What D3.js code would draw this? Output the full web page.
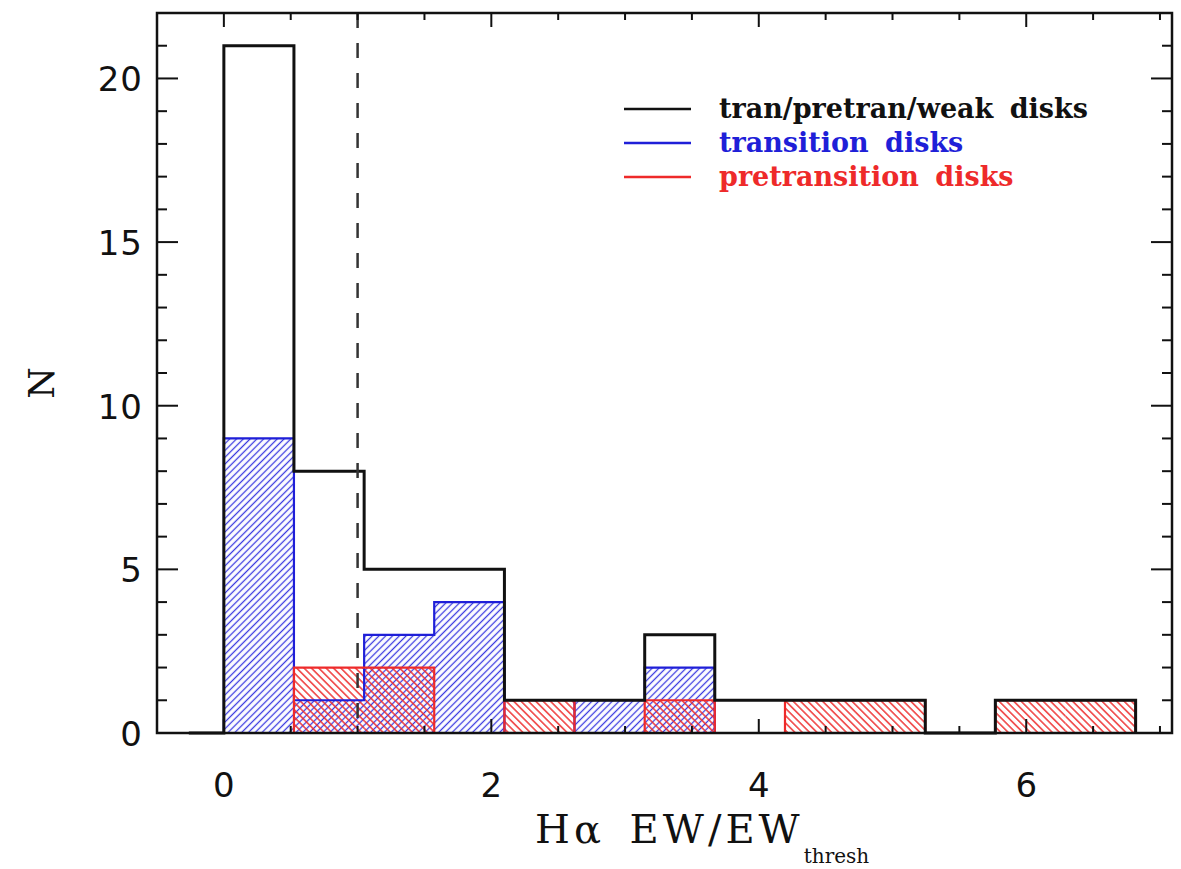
<!DOCTYPE html>
<html>
<head>
<meta charset="utf-8">
<script src="https://cdn.jsdelivr.net/npm/d3@7"></script>
<style>
  body { margin: 0; background: #fff; }
  svg { display: block; }
</style>
</head>
<body>
<div id="chart"></div>
<script>
// histogram bins (left edges) and the right edge of the last bin
var binStart = [0, 0.524, 1.049, 1.573, 2.098, 2.622, 3.147, 3.671, 4.196, 4.720, 5.245, 5.769, 6.294];
var binEndLast = 6.818;

// counts per bin
var allCounts = [21, 8, 5, 5, 1, 1, 3, 1, 1, 1, 0, 1, 1];
var tranCounts = [9, 1, 3, 4, 0, 1, 2, 0, 0, 0, 0, 0, 0];
var pretranCounts = [0, 2, 2, 0, 1, 0, 1, 0, 1, 1, 0, 1, 1];

var legendNames = ["tran/pretran/weak disks", "transition disks", "pretransition disks"];
var xMajor = [0, 2, 4, 6];
var yMajor = [0, 5, 10, 15, 20];
var threshold = 1;

function drawChart() {
  var W = 1181, H = 869;
  var m = {left: 157, right: 1172, top: 13, bottom: 733};

  var svg = d3.select("#chart").append("svg")
      .attr("width", W)
      .attr("height", H);

  var x = d3.scaleLinear().domain([-0.5, 7.09]).range([m.left, m.right]);
  var y = d3.scaleLinear().domain([0, 22]).range([m.bottom, m.top]);

  var blue = "#1f1fd8", red = "#ee2a2a";

  // hatch patterns
  var defs = svg.append("defs");
  function hatch(id, color, angle, gap, w) {
    var p = defs.append("pattern")
        .attr("id", id)
        .attr("patternUnits", "userSpaceOnUse")
        .attr("width", gap).attr("height", gap)
        .attr("patternTransform", "rotate(" + angle + ")");
    p.append("line")
        .attr("x1", gap / 2).attr("y1", 0)
        .attr("x2", gap / 2).attr("y2", gap)
        .attr("stroke", color)
        .attr("stroke-width", w);
  }
  hatch("hatchBlue", "#3a3ae0", 45, 4.8, 1.3);
  hatch("hatchRed", red, -45, 5.2, 1.4);

  function binRight(i) {
    return i + 1 < binStart.length ? binStart[i + 1] : binEndLast;
  }

  // hatched fills
  function fills(counts, pat) {
    svg.append("g").selectAll("rect")
      .data(counts.map(function (c, i) { return {i: i, c: c}; }).filter(function (d) { return d.c > 0; }))
      .enter().append("rect")
        .attr("x", function (d) { return x(binStart[d.i]); })
        .attr("y", function (d) { return y(d.c); })
        .attr("width", function (d) { return x(binRight(d.i)) - x(binStart[d.i]); })
        .attr("height", function (d) { return y(0) - y(d.c); })
        .attr("fill", "url(#" + pat + ")");
  }
  fills(tranCounts, "hatchBlue");
  fills(pretranCounts, "hatchRed");

  // step outlines
  var step = d3.line()
      .x(function (d) { return x(d[0]); })
      .y(function (d) { return y(d[1]); })
      .curve(d3.curveStepAfter);

  function outline(counts, lead) {
    var pts = [];
    if (lead) pts.push([-(binStart[1] - binStart[0]) / 2, 0]);
    else pts.push([binStart[0], 0]);
    counts.forEach(function (c, i) { pts.push([binStart[i], c]); });
    pts.push([binEndLast, 0]);
    return pts;
  }

  svg.append("path")
      .attr("d", step(outline(tranCounts, false)))
      .attr("fill", "none").attr("stroke", blue).attr("stroke-width", 2.2);
  svg.append("path")
      .attr("d", step(outline(pretranCounts, false)))
      .attr("fill", "none").attr("stroke", red).attr("stroke-width", 2.2);
  svg.append("path")
      .attr("d", step(outline(allCounts, true)))
      .attr("fill", "none").attr("stroke", "#111").attr("stroke-width", 3);

  // threshold line
  svg.append("line")
      .attr("x1", x(threshold)).attr("x2", x(threshold))
      .attr("y1", y(22)).attr("y2", y(0))
      .attr("stroke", "#333").attr("stroke-width", 2.5)
      .attr("stroke-dasharray", "15,15");

  // frame and ticks
  svg.append("rect")
      .attr("x", m.left).attr("y", m.top)
      .attr("width", m.right - m.left).attr("height", m.bottom - m.top)
      .attr("fill", "none").attr("stroke", "#111").attr("stroke-width", 2.5);

  var xTickVals = d3.range(0, 7.01, 0.5);
  var yTickVals = d3.range(0, 22.01, 1);

  var axisX = svg.append("g").attr("stroke", "#111").attr("stroke-width", 2);
  xTickVals.forEach(function (v) {
    var len = xMajor.indexOf(v) >= 0 ? 14 : 7;
    axisX.append("line").attr("x1", x(v)).attr("x2", x(v)).attr("y1", m.bottom).attr("y2", m.bottom - len);
    axisX.append("line").attr("x1", x(v)).attr("x2", x(v)).attr("y1", m.top).attr("y2", m.top + len);
  });
  var axisY = svg.append("g").attr("stroke", "#111").attr("stroke-width", 2);
  yTickVals.forEach(function (v) {
    var len = yMajor.indexOf(v) >= 0 ? 21 : 10;
    axisY.append("line").attr("x1", m.left).attr("x2", m.left + len).attr("y1", y(v)).attr("y2", y(v));
    axisY.append("line").attr("x1", m.right).attr("x2", m.right - len).attr("y1", y(v)).attr("y2", y(v));
  });

  // tick labels
  svg.append("g").selectAll("text")
    .data(xMajor).enter().append("text")
      .attr("x", function (d) { return x(d); })
      .attr("y", 797)
      .attr("text-anchor", "middle")
      .style("font", "34px 'DejaVu Sans'")
      .attr("fill", "#111")
      .text(function (d) { return d; });

  svg.append("g").selectAll("text")
    .data(yMajor).enter().append("text")
      .attr("x", 143)
      .attr("y", function (d) { return y(d) + 13; })
      .attr("text-anchor", "end")
      .style("font", "34px 'DejaVu Sans'")
      .style("letter-spacing", "1px")
      .attr("fill", "#111")
      .text(function (d) { return d; });

  // axis titles
  var xt = svg.append("text")
      .attr("x", 535).attr("y", 843)
      .style("font", "40px 'DejaVu Serif'")
      .style("letter-spacing", "4px")
      .style("word-spacing", "8px")
      .attr("fill", "#111");
  xt.append("tspan").text("H\u03b1 EW/EW");
  xt.append("tspan").attr("dy", 20).style("font-size", "20px").style("letter-spacing", "0px").text("thresh");

  svg.append("text")
      .attr("transform", "translate(54,383) rotate(-90)")
      .attr("text-anchor", "middle")
      .style("font", "36px 'DejaVu Serif'")
      .attr("fill", "#111")
      .text("N");

  // legend
  var legendColors = ["#111", blue, red];
  var lg = svg.append("g");
  legendNames.forEach(function (name, i) {
    var ly = 109 + i * 34;
    lg.append("line")
        .attr("x1", 624).attr("x2", 691)
        .attr("y1", ly).attr("y2", ly)
        .attr("stroke", legendColors[i]).attr("stroke-width", 2.5);
    lg.append("text")
        .attr("x", 719).attr("y", ly + 9)
        .style("font", "bold 27px 'DejaVu Serif'")
        .style("word-spacing", "7px")
        .attr("fill", legendColors[i])
        .text(name);
  });
}

drawChart();
</script>
</body>
</html>
